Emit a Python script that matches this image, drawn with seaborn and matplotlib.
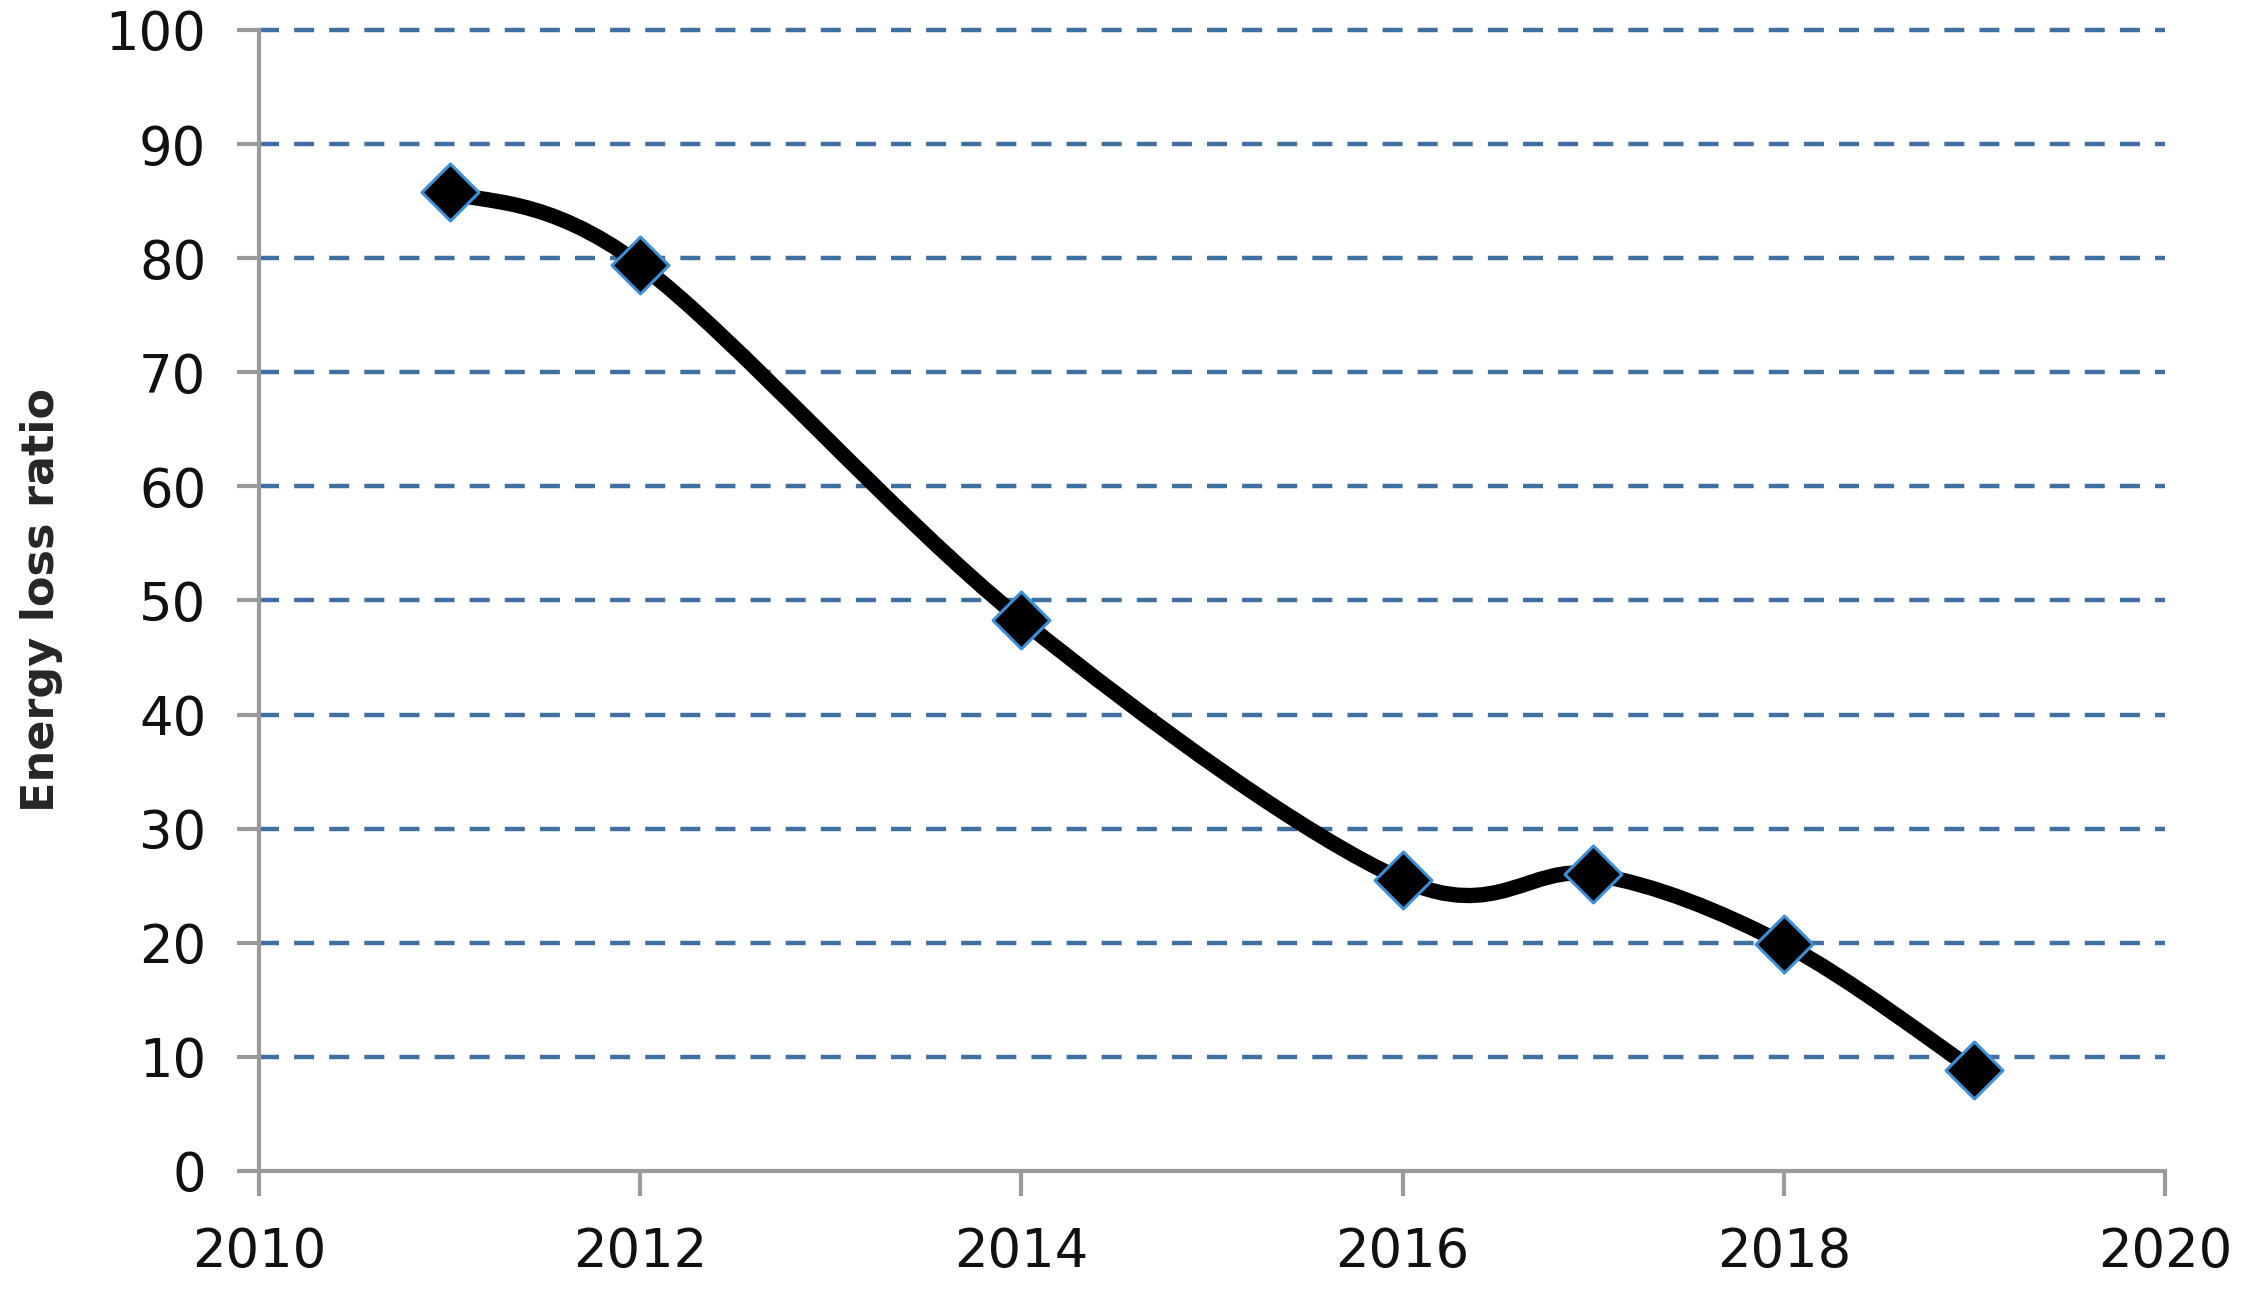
import numpy as np
import pandas as pd
import matplotlib
matplotlib.use("Agg")
import matplotlib.pyplot as plt
import seaborn as sns
from matplotlib.path import Path
from matplotlib.patches import PathPatch

# values
years = [2011, 2012, 2014, 2016, 2017, 2018, 2019]
loss_ratio = [85.8, 79.4, 48.3, 25.5, 26.0, 19.9, 8.8]
y_ticks = [0, 10, 20, 30, 40, 50, 60, 70, 80, 90, 100]
x_ticks = [2010, 2012, 2014, 2016, 2018, 2020]

df = pd.DataFrame({"year": years, "ratio": loss_ratio})

sns.set_style("white")
plt.rcParams["font.family"] = ["DejaVu Sans"]

fig = plt.figure(figsize=(22.45, 13.01), dpi=100)
ax = fig.add_axes([0.1154, 0.100, 0.8490, 0.877])

# dashed horizontal gridlines
for v in y_ticks[1:]:
    ax.axhline(v, color="#3f70a0", lw=3.2, dashes=(4.5, 3.4), zorder=1, clip_on=False)


# smoothed line (excel-style catmull-rom -> cubic bezier)
def smooth_path(xs, ys):
    pts = np.column_stack([xs, ys]).astype(float)
    ext = np.vstack([pts[0], pts, pts[-1]])
    verts = [tuple(pts[0])]
    codes = [Path.MOVETO]
    for i in range(1, len(ext) - 2):
        p0, p1, p2, p3 = ext[i - 1], ext[i], ext[i + 1], ext[i + 2]
        c1 = p1 + (p2 - p0) / 6.0
        c2 = p2 - (p3 - p1) / 6.0
        verts += [tuple(c1), tuple(c2), tuple(p2)]
        codes += [Path.CURVE4] * 3
    return Path(verts, codes)


ax.add_patch(PathPatch(smooth_path(df["year"], df["ratio"]), fill=False,
                       edgecolor="black", lw=11, zorder=3, capstyle="round"))

sns.scatterplot(data=df, x="year", y="ratio", marker="D", s=29 ** 2,
                color="black", edgecolor="#3d8fd8", linewidth=2.2, zorder=4, ax=ax)

ax.set_xlim(2010, 2020)
ax.set_ylim(0, 100)
ax.set_xticks(x_ticks)
ax.set_yticks(y_ticks)
ax.set_xticklabels([str(t) for t in x_ticks])
ax.set_yticklabels([str(t) for t in y_ticks])

for side in ["top", "right"]:
    ax.spines[side].set_visible(False)
for side in ["left", "bottom"]:
    ax.spines[side].set_color("#9a9a9a")
    ax.spines[side].set_linewidth(3)
    ax.spines[side].set_zorder(2)

ax.tick_params(axis="both", direction="out", colors="#9a9a9a", width=3,
               labelcolor="#111111", labelsize=38)
ax.tick_params(axis="y", length=16, pad=22, left=True)
ax.tick_params(axis="x", length=18, pad=22, bottom=True)

ax.set_xlabel("")
ax.set_ylabel("Energy loss ratio", fontsize=32, fontweight="bold", va="center")
ax.yaxis.set_label_coords(-0.114, 0.5)

fig.savefig("out.png", dpi=100)
